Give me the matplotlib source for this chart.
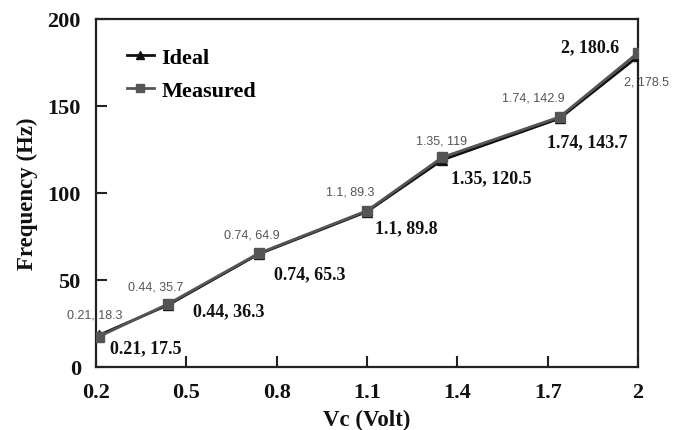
import matplotlib
matplotlib.use("Agg")
import matplotlib.pyplot as plt

# Data
vc_ideal = [0.21, 0.44, 0.74, 1.1, 1.35, 1.74, 2.0]
freq_ideal = [18.3, 35.7, 64.9, 89.3, 119.0, 142.9, 178.5]
vc_meas = [0.21, 0.44, 0.74, 1.1, 1.35, 1.74, 2.0]
freq_meas = [17.5, 36.3, 65.3, 89.8, 120.5, 143.7, 180.6]
x_ticks = [0.2, 0.5, 0.8, 1.1, 1.4, 1.7, 2.0]
x_tick_labels = ["0.2", "0.5", "0.8", "1.1", "1.4", "1.7", "2"]
y_ticks = [0, 50, 100, 150, 200]


def fmt(v):
    return f"{v:g}"


# Label placement (pixel offsets from each point, centre of text)
ideal_offsets = [(-4, 21), (-13, 18), (-7, 20), (-17, 20), (-1, 19), (-26, 21), (9, -25)]
meas_offsets = [(47, -11), (60, -7), (51, -20), (39, -17), (49, -20), (28, -25), (-48, 6)]

fig = plt.figure(figsize=(6.84, 4.31), dpi=100)
ax = fig.add_axes([0.1404, 0.1462, 0.7923, 0.8074])

serif = "Liberation Serif"

ax.plot(vc_ideal, freq_ideal, color="#111111", lw=2.0, marker="^", ms=7,
        label="Ideal", zorder=3)
ax.plot(vc_meas, freq_meas, color="#555555", lw=2.0, marker="s", ms=7,
        label="Measured", zorder=4)

for x, y, (dx, dy) in zip(vc_ideal, freq_ideal, ideal_offsets):
    ax.annotate(f"{fmt(x)}, {fmt(y)}", (x, y), xytext=(dx, dy),
                textcoords="offset pixels", ha="center", va="center",
                fontsize=9, family="Liberation Sans", color="#555555",
                annotation_clip=False, zorder=5)

for x, y, (dx, dy) in zip(vc_meas, freq_meas, meas_offsets):
    ax.annotate(f"{fmt(x)}, {fmt(y)}", (x, y), xytext=(dx, dy),
                textcoords="offset pixels", ha="center", va="center",
                fontsize=13, family=serif, fontweight="bold", color="#111111",
                annotation_clip=False, zorder=5)

ax.set_xlim(0.2, 2.0)
ax.set_ylim(0, 200)
ax.set_xticks(x_ticks)
ax.set_xticklabels(x_tick_labels)
ax.set_yticks(y_ticks)

for lab in ax.get_xticklabels() + ax.get_yticklabels():
    lab.set_fontfamily(serif)
    lab.set_fontweight("bold")
    lab.set_fontsize(16)
    lab.set_color("#111111")

ax.tick_params(direction="in", length=8, width=1.5, color="#222222")
ax.tick_params(axis="x", pad=11)
ax.tick_params(axis="y", pad=11)
for sp in ax.spines.values():
    sp.set_linewidth(1.6)
    sp.set_color("#222222")

ax.set_xlabel("Vc (Volt)", family=serif, fontweight="bold", fontsize=16.5,
              labelpad=5, color="#111111")
ax.set_ylabel("Frequency (Hz)", family=serif, fontweight="bold", fontsize=16.5,
              labelpad=7, color="#111111")

leg = ax.legend(loc="upper left", bbox_to_anchor=(0.02, 0.975), frameon=False,
                prop={"family": serif, "weight": "bold", "size": 16},
                handlelength=1.2, handletextpad=0.35, labelspacing=0.55,
                markerscale=0.8)

fig.savefig("out.png", dpi=100)
